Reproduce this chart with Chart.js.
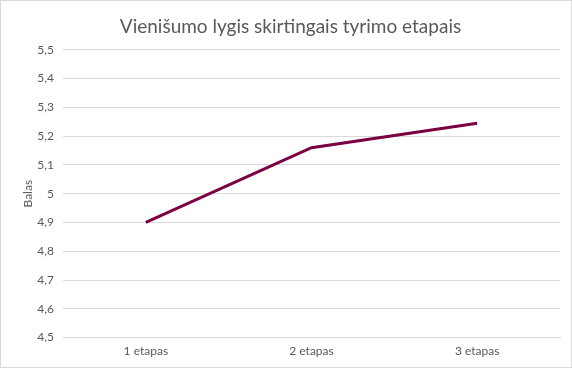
<!DOCTYPE html>
<html><head><meta charset="utf-8">
<script src="https://cdn.jsdelivr.net/npm/chart.js@4.4.1/dist/chart.umd.min.js"></script>
<style>
html,body{margin:0;padding:0;background:#fff;}
#wrap{position:absolute;left:0;top:0;width:570px;height:366px;border:1px solid #d9d9d9;}
canvas{display:block;}
</style></head>
<body>
<div id="wrap"><canvas id="c" width="570" height="366"></canvas></div>
<script>
const categories = ["1 etapas", "2 etapas", "3 etapas"];
const values = [4.90, 5.16, 5.245];
const yMin = 4.5, yMax = 5.5, yStep = 0.1;
const titleText = "Vienišumo lygis skirtingais tyrimo etapais";
const yTitle = "Balas";

const fontFam = "Lato, 'Open Sans', sans-serif";
new Chart(document.getElementById('c'), {
  type: 'line',
  data: {
    labels: categories,
    datasets: [{
      data: values,
      borderColor: '#7B0041',
      backgroundColor: '#7B0041',
      borderWidth: 3,
      pointRadius: 0,
      tension: 0,
      fill: false
    }]
  },
  options: {
    responsive: false,
    animation: false,
    devicePixelRatio: 1,
    layout: { padding: { left: 20, right: 11, top: 12, bottom: 3 } },
    plugins: {
      legend: { display: false },
      tooltip: { enabled: false },
      title: {
        display: true, text: titleText, color: '#595959',
        font: { family: fontFam, size: 19, weight: 'normal' },
        padding: { top: 2, bottom: 12 }
      }
    },
    scales: {
      x: {
        offset: true,
        grid: { display: false, drawTicks: false },
        border: { display: true, color: '#d9d9d9', width: 1 },
        ticks: { color: '#595959', font: { family: fontFam, size: 12 }, padding: 6 }
      },
      y: {
        min: yMin, max: yMax,
        afterFit: s => { s.width = 42; },
        grid: { color: '#d9d9d9', drawTicks: false },
        border: { display: false },
        title: { display: true, text: yTitle, color: '#595959', font: { family: fontFam, size: 12 }, padding: { top: 0, bottom: 0 } },
        ticks: {
          stepSize: yStep, color: '#595959', font: { family: fontFam, size: 12 }, padding: 9,
          callback: v => String(Number(v.toFixed(1))).replace('.', ',')
        }
      }
    }
  }
});
</script>
</body></html>
